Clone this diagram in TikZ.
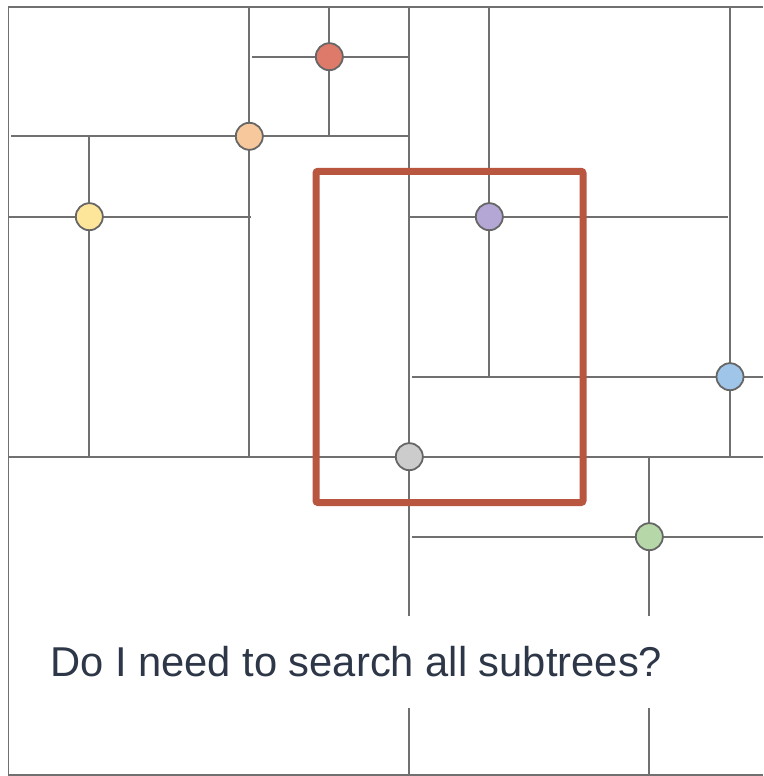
\documentclass[tikz,border=0pt]{standalone}
\usepackage{fontspec}
\setmainfont{Liberation Sans}
\definecolor{gridline}{HTML}{707070}
\definecolor{ptline}{HTML}{666666}
\definecolor{boxred}{HTML}{B85640}
\definecolor{txt}{HTML}{2D3748}
\definecolor{cred}{HTML}{DD7A6A}
\definecolor{corange}{HTML}{F7C89B}
\definecolor{cyellow}{HTML}{FDE59A}
\definecolor{cpurple}{HTML}{B4A7D6}
\definecolor{cblue}{HTML}{9FC5E8}
\definecolor{cgray}{HTML}{CCCCCC}
\definecolor{cgreen}{HTML}{B6D7A8}
\begin{document}
\begin{tikzpicture}[x=1pt,y=-1pt,
  grid/.style={draw=gridline,line width=1.8pt},
  pt/.style={circle,draw=ptline,line width=1.8pt,minimum size=27pt,inner sep=0pt},
  query/.style={draw=boxred,line width=7pt,rounded corners=2pt}]
\useasboundingbox (0,0) rectangle (763,776);
\fill[white] (0,0) rectangle (763,776);
% frame
\draw[grid] (763,7) -- (8.5,7) -- (8.5,775) -- (763,775);
% splitting lines
\draw[grid] (249.3,7) -- (249.3,456.7);
\draw[grid] (329.3,7) -- (329.3,136.3);
\draw[grid] (252,56.7) -- (409,56.7);
\draw[grid] (11,136.3) -- (409,136.3);
\draw[grid] (89.3,137) -- (89.3,456.7);
\draw[grid] (8.5,216.7) -- (251,216.7);
\draw[grid] (409.3,7) -- (409.3,775);
\draw[grid] (489.3,7) -- (489.3,378);
\draw[grid] (730,7) -- (730,456.7);
\draw[grid] (410,216.7) -- (728,216.7);
\draw[grid] (412,376.7) -- (763,376.7);
\draw[grid] (8.5,456.7) -- (763,456.7);
\draw[grid] (649.3,457) -- (649.3,775);
\draw[grid] (412,536.7) -- (763,536.7);
% query box
\draw[query] (316,171.3) rectangle (583,502.5);
% points
\node[pt,fill=cred] (pred) at (329.3,56.7) {};
\node[pt,fill=corange] (porange) at (249.3,136.3) {};
\node[pt,fill=cyellow] (pyellow) at (89.3,216.7) {};
\node[pt,fill=cpurple] (ppurple) at (489.3,216.7) {};
\node[pt,fill=cblue] (pblue) at (730,376.7) {};
\node[pt,fill=cgray] (pgray) at (409.3,456.7) {};
\node[pt,fill=cgreen] (pgreen) at (649.3,536.7) {};
% caption
\node[anchor=base west,fill=white,inner xsep=0pt,inner ysep=0pt,text height=60pt,text depth=32pt,text=txt,font=\fontsize{41.7pt}{48pt}\selectfont] (caption) at (50,676) {Do I need to search all subtrees?};
\end{tikzpicture}
\end{document}
